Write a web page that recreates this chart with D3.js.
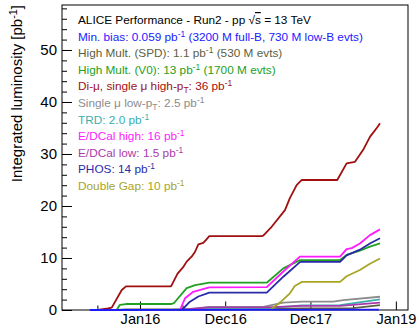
<!DOCTYPE html>
<html>
<head>
<meta charset="utf-8">
<script src="https://cdn.jsdelivr.net/npm/d3@7"></script>
<style>
	body { margin: 0; background: #fff; }
	svg { display: block; font-family: "Liberation Sans", Arial, Helvetica, sans-serif; }
</style>
</head>
<body>
<svg id="chart" width="419" height="328"></svg>
<script>
// legend text uses ROOT-like ^{} / _{} markup
const header = 'ALICE Performance - Run2 - pp √s = 13 TeV'
const seriesNames = [
	'Min. bias: 0.059 pb^{-1} (3200 M full-B, 730 M low-B evts)',
	'High Mult. (SPD): 1.1 pb^{-1} (530 M evts)',
	'High Mult. (V0): 13 pb^{-1} (1700 M evts)',
	'Di-μ, single μ high-p_{T}: 36 pb^{-1}',
	'Single μ low-p_{T}: 2.5 pb^{-1}',
	'TRD: 2.0 pb^{-1}',
	'E/DCal high: 16 pb^{-1}',
	'E/DCal low: 1.5 pb^{-1}',
	'PHOS: 14 pb^{-1}',
	'Double Gap: 10 pb^{-1}'
]
const seriesColors = ['#1a1aff', '#5e5e40', '#22a022', '#a01010', '#8c8c8c', '#3aaeae', '#ff1aff', '#aa3aaa', '#2a2aa8', '#a8a424']

// integrated luminosity [pb-1] vs date
const minBias = [['2015-05-31', 0], ['2016-10-24', 0.03], ['2018-10-20', 0.06]]
const highMultSPD = [['2015-09-23', 0], ['2015-11-02', 0.1], ['2016-05-13', 0.1], ['2016-10-24', 0.2],
	['2017-06-27', 0.2], ['2017-11-24', 0.3], ['2018-07-03', 0.35], ['2018-10-25', 0.95]]
const highMultV0 = [['2015-09-23', 0], ['2015-10-07', 1.0], ['2015-11-02', 1.15], ['2016-05-13', 1.15],
	['2016-05-25', 1.3], ['2016-07-19', 4.2], ['2016-08-24', 4.8], ['2016-10-24', 5.25], ['2017-06-27', 5.25],
	['2017-09-06', 8.0], ['2017-11-16', 9.6], ['2018-05-07', 9.6], ['2018-06-04', 10.6], ['2018-07-31', 11.4],
	['2018-09-12', 12.2], ['2018-10-25', 12.8]]
const diMuon = [['2015-07-05', 0], ['2015-08-17', 0.3], ['2015-09-02', 0.45], ['2015-10-15', 3.85],
	['2015-11-02', 4.55], ['2016-05-13', 4.55], ['2016-06-10', 7.0], ['2016-07-05', 8.3], ['2016-07-19', 9.3],
	['2016-08-10', 10.3], ['2016-08-24', 11.2], ['2016-09-07', 12.6], ['2016-09-28', 12.9], ['2016-10-10', 13.5],
	['2016-10-24', 14.2], ['2017-06-05', 14.2], ['2017-06-12', 14.3], ['2017-07-18', 16.0], ['2017-09-13', 19.2],
	['2017-10-04', 21.5], ['2017-11-02', 24.0], ['2017-11-24', 25.0], ['2018-04-25', 25.0], ['2018-06-04', 28.2],
	['2018-07-10', 28.5], ['2018-08-14', 30.8], ['2018-09-12', 33.3], ['2018-10-16', 35.3], ['2018-10-25', 35.9]]
const singleMuLow = [['2016-06-28', 0], ['2016-10-24', 0.6], ['2017-06-12', 0.6], ['2017-09-06', 1.4],
	['2017-11-24', 1.6], ['2018-04-08', 1.6], ['2018-05-21', 1.9], ['2018-10-25', 2.55]]
const trd = [['2016-07-10', 0], ['2016-10-24', 0.3], ['2017-06-27', 0.3], ['2017-11-24', 0.9],
	['2018-05-07', 0.95], ['2018-10-25', 2.05]]
const edcalHigh = [['2016-06-20', 0], ['2016-07-12', 2.25], ['2016-08-16', 3.5], ['2016-10-24', 4.37],
	['2017-06-27', 4.4], ['2017-09-06', 7.4], ['2017-11-16', 10.25], ['2018-05-07', 10.25], ['2018-06-04', 11.7],
	['2018-06-26', 11.9], ['2018-07-31', 12.8], ['2018-09-12', 14.4], ['2018-10-25', 15.5]]
const edcalLow = [['2016-06-20', 0], ['2016-10-24', 0.5], ['2017-06-27', 0.5], ['2017-11-24', 0.8],
	['2018-05-07', 0.8], ['2018-10-25', 1.4]]
const phos = [['2016-06-28', 0], ['2016-08-02', 1.6], ['2016-09-07', 2.6], ['2016-10-24', 3.33],
	['2017-06-27', 3.35], ['2017-09-06', 6.4], ['2017-11-16', 9.2], ['2017-11-24', 9.25], ['2018-05-07', 9.25],
	['2018-06-04', 10.5], ['2018-07-31', 11.6], ['2018-09-12', 12.8], ['2018-10-25', 13.8]]
const doubleGap = [['2017-07-11', 0], ['2017-08-27', 1.6], ['2017-10-04', 3.2], ['2017-10-25', 4.6],
	['2017-11-24', 5.4], ['2018-05-07', 5.4], ['2018-06-04', 6.5], ['2018-07-31', 7.7], ['2018-09-12', 8.9],
	['2018-10-25', 9.9]]

const seriesData = [minBias, highMultSPD, highMultV0, diMuon, singleMuLow, trd, edcalHigh, edcalLow, phos, doubleGap]

const yMajorTicks = [0, 10, 20, 30, 40, 50]
const xTickDates = ['2016-01-01', '2016-12-31', '2017-12-31', '2019-01-01']
const xTickLabels = ['Jan16', 'Dec16', 'Dec17', 'Jan19']

const width = 419
const height = 328
const margins = { top: 5, right: 11, bottom: 18, left: 62 }
const parseDate = d3.utcParse('%Y-%m-%d')

const svg = d3.select('#chart')

const xScale = d3.scaleUtc()
	.domain([parseDate('2015-02-01'), parseDate('2019-02-22')])
	.range([margins.left, width - margins.right])
const yScale = d3.scaleLinear()
	.domain([0, 58.65])
	.range([height - margins.bottom, margins.top])

const xMajor = xTickDates.map(parseDate)
const xMinor = d3.range(-1, xMajor.length - 1).map(i => {
	const a = i < 0 ? +xMajor[0] - (xMajor[1] - xMajor[0]) : +xMajor[i]
	return new Date((a + +xMajor[i + 1]) / 2)
})

// minor ticks first, no labels
svg.append('g')
	.attr('transform', `translate(0, ${height - margins.bottom})`)
	.call(d3.axisBottom(xScale).tickValues(xMinor).tickSize(-4.5).tickFormat(''))
	.call(g => g.select('.domain').remove())
svg.append('g')
	.attr('class', 'x-major')
	.attr('transform', `translate(0, ${height - margins.bottom})`)
	.call(d3.axisBottom(xScale).tickValues(xMajor).tickSize(-8.5).tickPadding(4)
		.tickFormat((d, i) => xTickLabels[i]))
	.call(g => g.select('.domain').remove())

svg.append('g')
	.attr('transform', `translate(${margins.left}, 0)`)
	.call(d3.axisLeft(yScale).tickValues(d3.range(0, 58.65, 2)).tickSize(-5).tickFormat(''))
	.call(g => g.select('.domain').remove())
svg.append('g')
	.attr('transform', `translate(${margins.left}, 0)`)
	.call(d3.axisLeft(yScale).tickValues(yMajorTicks).tickSize(-10).tickPadding(5))
	.call(g => g.select('.domain').remove())

svg.selectAll('.tick line').attr('stroke', '#000')
svg.selectAll('.tick text').attr('fill', '#000').style('font-size', '15px')
	.style('font-family', '"Liberation Sans", Arial, sans-serif')
svg.selectAll('.x-major .tick text').style('font-size', '14.6px')

svg.append('rect')
	.attr('x', margins.left).attr('y', margins.top)
	.attr('width', width - margins.left - margins.right)
	.attr('height', height - margins.top - margins.bottom)
	.attr('fill', 'none').attr('stroke', '#000').attr('stroke-width', 1)

// axis title
const yTitle = svg.append('text')
	.attr('transform', `translate(22, ${margins.top}) rotate(-90)`)
	.attr('text-anchor', 'end')
	.style('font-size', '15px')
richText(yTitle, 'Integrated luminosity [pb^{-1}]')

// curves
const line = d3.line()
	.x(d => xScale(parseDate(d[0])))
	.y(d => yScale(d[1]))

const drawOrder = [1, 2, 3, 4, 5, 6, 7, 8, 9, 0]
drawOrder.forEach(i => {
	svg.append('path')
		.datum(seriesData[i])
		.attr('fill', 'none')
		.attr('stroke', seriesColors[i])
		.attr('stroke-width', 1.8)
		.attr('stroke-linejoin', 'round')
		.attr('d', line)
})

// legend
const legend = svg.append('g').style('font-size', '11.8px')
const head = legend.append('text').attr('x', 78).attr('y', 24).attr('fill', '#000')
head.append('tspan').text('ALICE Performance - Run2 - pp √')
head.append('tspan').style('text-decoration', 'overline').text('s')
head.append('tspan').text(' = 13 TeV')

seriesNames.forEach((name, i) => {
	const t = legend.append('text')
		.attr('x', 78).attr('y', 24 + 16.6 * (i + 1))
		.attr('fill', seriesColors[i])
	richText(t, name)
})

function richText(sel, str) {
	str.split(/(\^\{[^}]*\}|_\{[^}]*\})/).forEach(part => {
		if (!part) return
		if (part.startsWith('^{')) {
			sel.append('tspan').attr('baseline-shift', '45%').style('font-size', '72%').text(part.slice(2, -1))
		}
		else if (part.startsWith('_{')) {
			sel.append('tspan').attr('baseline-shift', '-35%').style('font-size', '72%').text(part.slice(2, -1))
		}
		else {
			sel.append('tspan').text(part)
		}
	})
}
</script>
</body>
</html>
